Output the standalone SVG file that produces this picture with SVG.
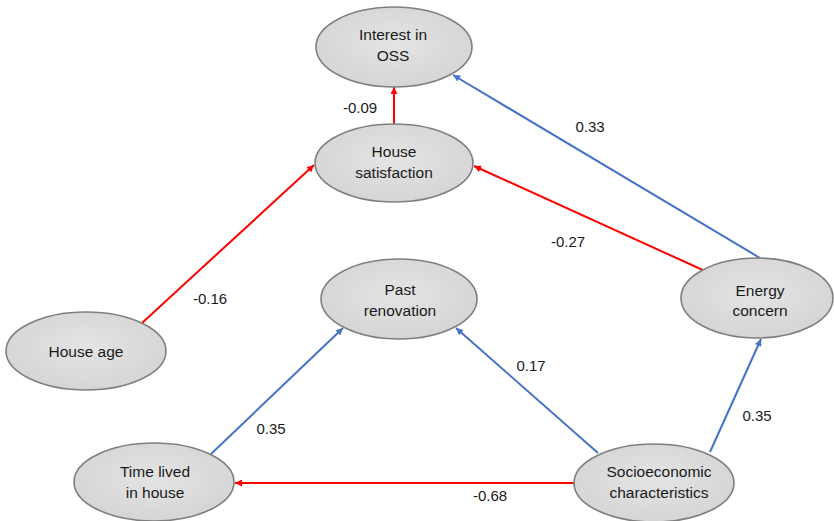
<svg xmlns="http://www.w3.org/2000/svg" width="834" height="521" viewBox="0 0 834 521">
  <defs>
    <marker id="arrRed" viewBox="0 0 10 10" refX="10" refY="5" markerWidth="8" markerHeight="7" markerUnits="userSpaceOnUse" orient="auto">
      <path d="M0,0 L10,5 L0,10 Z" fill="#ff0000"/>
    </marker>
    <marker id="arrBlue" viewBox="0 0 10 10" refX="10" refY="5" markerWidth="8" markerHeight="7" markerUnits="userSpaceOnUse" orient="auto">
      <path d="M0,0 L10,5 L0,10 Z" fill="#4472c4"/>
    </marker>
    <radialGradient id="nodeFill" cx="50%" cy="45%" r="60%">
      <stop offset="0%" stop-color="#e4e4e4"/>
      <stop offset="100%" stop-color="#d4d4d4"/>
    </radialGradient>
  </defs>
  <style>
    .node ellipse { fill: url(#nodeFill); stroke: #7f7f7f; stroke-width: 1.6; }
    .node text { font-family: "Liberation Sans", Arial, sans-serif; font-size: 15.5px; fill: #1a1a1a; text-anchor: middle; }
    .edge { fill: none; stroke-width: 2; }
    .neg { stroke: #ff0000; marker-end: url(#arrRed); }
    .pos { stroke: #4472c4; marker-end: url(#arrBlue); }
    .lbl { font-family: "Liberation Sans", Arial, sans-serif; font-size: 15px; fill: #1a1a1a; text-anchor: middle; }
  </style>
  <rect width="834" height="521" fill="#ffffff"/>

  <g id="connectors">
    <line class="edge neg" x1="394" y1="125" x2="394" y2="87"/>
    <line class="edge pos" x1="760" y1="258" x2="453" y2="75"/>
    <line class="edge neg" x1="705" y1="271" x2="474" y2="166"/>
    <line class="edge neg" x1="142" y1="323" x2="314" y2="165"/>
    <line class="edge pos" x1="211" y1="454" x2="343" y2="328"/>
    <line class="edge pos" x1="598" y1="453" x2="456" y2="328"/>
    <line class="edge pos" x1="710" y1="452" x2="761" y2="339"/>
    <line class="edge neg" x1="574" y1="483" x2="235" y2="483"/>
    <text class="lbl" x="360" y="113">-0.09</text>
    <text class="lbl" x="590" y="132">0.33</text>
    <text class="lbl" x="568" y="247">-0.27</text>
    <text class="lbl" x="210" y="304">-0.16</text>
    <text class="lbl" x="531" y="371">0.17</text>
    <text class="lbl" x="271" y="434">0.35</text>
    <text class="lbl" x="757" y="421">0.35</text>
    <text class="lbl" x="490" y="501">-0.68</text>
  </g>

  <g id="interest" class="node">
    <ellipse cx="394" cy="47" rx="78" ry="40"/>
    <text x="393" y="40">Interest in</text>
    <text x="393" y="61">OSS</text>
  </g>
  <g id="satisfaction" class="node">
    <ellipse cx="394" cy="163" rx="79" ry="39"/>
    <text x="394" y="157">House</text>
    <text x="394" y="178">satisfaction</text>
  </g>
  <g id="renovation" class="node">
    <ellipse cx="399" cy="299" rx="78" ry="40"/>
    <text x="400" y="295">Past</text>
    <text x="400" y="316">renovation</text>
  </g>
  <g id="houseage" class="node">
    <ellipse cx="86" cy="351" rx="80" ry="39"/>
    <text x="86" y="357">House age</text>
  </g>
  <g id="timelived" class="node">
    <ellipse cx="154" cy="482" rx="80" ry="39"/>
    <text x="155" y="477">Time lived</text>
    <text x="155" y="498">in house</text>
  </g>
  <g id="energy" class="node">
    <ellipse cx="757" cy="298" rx="76" ry="40"/>
    <text x="760" y="296">Energy</text>
    <text x="760" y="316">concern</text>
  </g>
  <g id="socio" class="node">
    <ellipse cx="654" cy="483" rx="80" ry="39"/>
    <text x="659" y="477">Socioeconomic</text>
    <text x="659" y="498">characteristics</text>
  </g>
</svg>
